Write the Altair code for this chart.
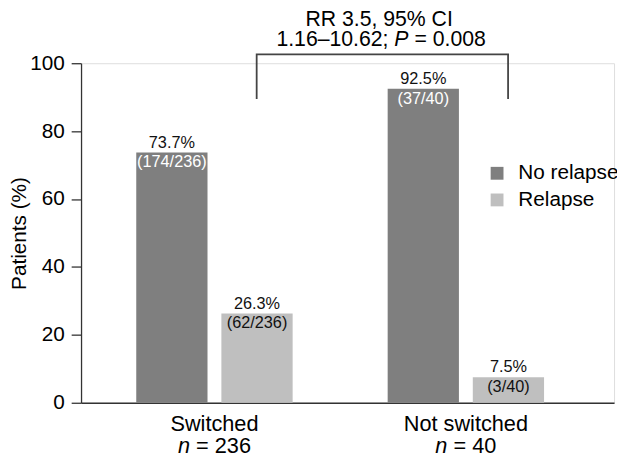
import altair as alt
import pandas as pd

# ---------------- data ----------------
groups = ["Switched", "Not switched"]
n_values = ["= 236", "= 40"]
series = ["No relapse", "Relapse"]
no_relapse = [73.7, 92.5]
relapse = [26.3, 7.5]
no_relapse_frac = ["(174/236)", "(37/40)"]
relapse_frac = ["(62/236)", "(3/40)"]
bracket_low = 89.5
bracket_high = 102.6
rr_line1 = "RR 3.5, 95% CI"
rr_line2a = "1.16–10.62;"
rr_p = "P"
rr_line2b = "= 0.008"
colors = ["#7f7f7f", "#bfbfbf"]

FONT = "Liberation Sans"

rows = []
for g, v1, v2, f1, f2 in zip(groups, no_relapse, relapse, no_relapse_frac, relapse_frac):
    rows.append(dict(group=g, series=series[0], value=v1, pct=f"{v1}%", frac=f1))
    rows.append(dict(group=g, series=series[1], value=v2, pct=f"{v2}%", frac=f2))
df = pd.DataFrame(rows)

br = pd.DataFrame({
    "group": [groups[0], groups[0], groups[1], groups[1]],
    "value": [bracket_low, bracket_high, bracket_high, bracket_low],
    "ord": [0, 1, 2, 3],
})

# approximate Arial/Liberation widths (em) for layout of mixed-style labels
WID = {" ": 0.278, "=": 0.584, ".": 0.278, ";": 0.278, "–": 0.556, "n": 0.556, "P": 0.667}
def tw(s, size):
    return sum(WID.get(c, 0.556) for c in s) * size

W, H = 540, 344

x_scale = alt.Scale(paddingInner=0.378, paddingOuter=0.249, align=0.441)
x_axis = alt.Axis(title=None, ticks=False, labelAngle=0, labelFontSize=22,
                  labelColor="black", labelPadding=10.6, domainColor="#333",
                  domainWidth=1.3, labelFont=FONT)

def xe(**kw):
    return alt.X("group:N", sort=groups, scale=x_scale, axis=x_axis, **kw)

xo_enc = alt.XOffset("series:N", sort=series,
                     scale=alt.Scale(paddingInner=0.163, paddingOuter=0))
y_enc = alt.Y("value:Q", scale=alt.Scale(domain=[0, 100], nice=False),
              axis=alt.Axis(values=[0, 20, 40, 60, 80, 100], title="Patients (%)",
                            titleFontSize=21, titleFontWeight="normal", titleColor="black",
                            titlePadding=0, titleFont=FONT, labelFont=FONT,
                            labelFontSize=21, labelColor="black", labelPadding=7,
                            tickSize=10, tickColor="#333", tickWidth=1.3,
                            domainColor="#333", domainWidth=1.3, grid=False))

base = alt.Chart(df)

bars = base.mark_bar().encode(
    x=xe(), xOffset=xo_enc, y=y_enc,
    color=alt.Color("series:N", sort=series,
                    scale=alt.Scale(domain=series, range=colors),
                    legend=alt.Legend(title=None, orient="none", legendX=411, legendY=101,
                                      symbolType="square", symbolSize=169,
                                      symbolStrokeWidth=0, labelFontSize=21,
                                      labelColor="black", labelOffset=11, rowPadding=5,
                                      padding=0, labelFont=FONT)),
)

pct = base.mark_text(baseline="alphabetic", dy=-5, fontSize=16.5, color="#111", font=FONT).encode(
    x=xe(), xOffset=xo_enc, y=y_enc, text="pct:N")

frac = base.mark_text(baseline="top", dy=2, fontSize=16.5, font=FONT).encode(
    x=xe(), xOffset=xo_enc, y=y_enc, text="frac:N",
    color=alt.condition(alt.datum.series == series[0], alt.value("white"), alt.value("#111")))

bracket = alt.Chart(br).mark_line(color="#444", strokeWidth=1.8).encode(
    x=xe(bandPosition=0.77),
    y=y_enc,
    order="ord:Q",
)

layers = [bars, pct, frac, bracket]

# "n = ..." second line of category labels (italic n)
NS = 22
for g, nv in zip(groups, n_values):
    total = tw("n", NS) + tw(" ", NS) + tw(nv, NS)
    start = -total / 2
    gdf = pd.DataFrame({"group": [g], "nlab": ["n"], "nval": [nv]})
    layers.append(alt.Chart(gdf).mark_text(align="left", baseline="alphabetic", fontSize=NS,
                                           fontStyle="italic", dx=start, color="black", font=FONT)
                  .encode(x=xe(), y=alt.value(H + 51), text="nlab:N"))
    layers.append(alt.Chart(gdf).mark_text(align="left", baseline="alphabetic", fontSize=NS,
                                           dx=start + tw("n ", NS), color="black", font=FONT)
                  .encode(x=xe(), y=alt.value(H + 51), text="nval:N"))

# RR annotation
AS = 21.5
cx = 304
ann = pd.DataFrame({"l1": [rr_line1], "a": [rr_line2a], "p": [rr_p], "b": [rr_line2b]})
tot2 = tw(rr_line2a, AS) + tw(" ", AS) + tw(rr_p, AS) + tw(" ", AS) + tw(rr_line2b, AS)
s2 = cx - tot2 / 2
layers.append(alt.Chart(ann).mark_text(align="center", baseline="alphabetic", fontSize=AS,
                                       color="black", font=FONT)
              .encode(x=alt.value(cx - 2), y=alt.value(-38), text="l1:N"))
layers.append(alt.Chart(ann).mark_text(align="left", baseline="alphabetic", fontSize=AS,
                                       color="black", font=FONT)
              .encode(x=alt.value(s2), y=alt.value(-17), text="a:N"))
p_x = s2 + tw(rr_line2a + " ", AS)
layers.append(alt.Chart(ann).mark_text(align="left", baseline="alphabetic", fontSize=AS,
                                       fontStyle="italic", color="black", font=FONT)
              .encode(x=alt.value(p_x), y=alt.value(-17), text="p:N"))
layers.append(alt.Chart(ann).mark_text(align="left", baseline="alphabetic", fontSize=AS,
                                       color="black", font=FONT)
              .encode(x=alt.value(p_x + tw("P ", AS)), y=alt.value(-17), text="b:N"))

chart = alt.layer(*layers).properties(
    width=W, height=H,
    autosize=alt.AutoSizeParams(type="none"),
    padding={"left": 74, "top": 53, "right": 3, "bottom": 53},
).configure_view(stroke=None).configure(font=FONT)

chart.save("out.html", embed_options={"renderer": "svg", "actions": False})
